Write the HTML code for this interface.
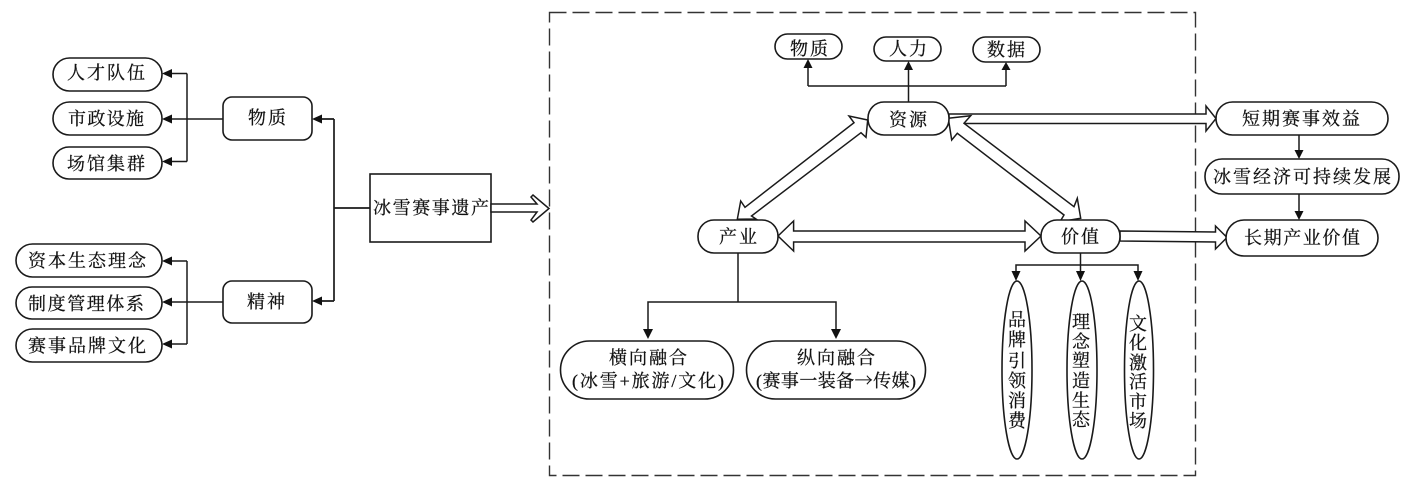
<!DOCTYPE html>
<html><head><meta charset="utf-8">
<style>
html,body{margin:0;padding:0;background:#fff;width:1407px;height:477px;overflow:hidden}
svg{display:block}
text{font-family:"Liberation Serif","Noto Serif CJK SC",serif;font-size:18px;fill:#111;stroke:#111;stroke-width:.25;text-anchor:middle}
.b{fill:#fff;stroke:#1a1a1a;stroke-width:1.6}
.l{fill:none;stroke:#1a1a1a;stroke-width:1.5}
.h{fill:#111;stroke:none}
.d{fill:#fff;stroke:#1a1a1a;stroke-width:1.5;stroke-linejoin:miter}
</style></head><body>
<svg width="1407" height="477" viewBox="0 0 1407 477" xmlns="http://www.w3.org/2000/svg">
<rect x="549.5" y="12.5" width="646" height="463" fill="none" stroke="#333" stroke-width="1.4" stroke-dasharray="17 6"/>

<!-- left connectors -->
<path class="l" d="M187 73.5H166M187 73.5V161.5M187 161.5H166M223 119H166M187 261H166M187 261V344M187 344H166M223 302H166"/>
<path class="l" d="M370 208H334M334 119V301M334 119H316M334 301H316" style="stroke-width:1.7"/>
<polygon class="h" points="162,73.5 172,69 172,78"/>
<polygon class="h" points="162,119 172,114.5 172,123.5"/>
<polygon class="h" points="162,161.5 172,157 172,166"/>
<polygon class="h" points="162,261 172,256.5 172,265.5"/>
<polygon class="h" points="162,302 172,297.5 172,306.5"/>
<polygon class="h" points="162,344 172,339.5 172,348.5"/>
<polygon class="h" points="312,119 322,114.5 322,123.5"/>
<polygon class="h" points="312,301 322,296.5 322,305.5"/>

<!-- left nodes -->
<rect class="b" x="53" y="58" width="109" height="33" rx="16.5"/>
<rect class="b" x="53" y="102" width="109" height="33" rx="16.5"/>
<rect class="b" x="53" y="147" width="109" height="32" rx="16"/>
<rect class="b" x="16" y="244" width="146" height="33" rx="16.5"/>
<rect class="b" x="16" y="287" width="146" height="32" rx="16"/>
<rect class="b" x="16" y="329" width="146" height="33" rx="16.5"/>
<rect class="b" x="223" y="97" width="89" height="43" rx="9"/>
<rect class="b" x="223" y="281" width="89" height="42" rx="9"/>
<rect x="370" y="174" width="121" height="68" fill="#fff" stroke="#1a1a1a" stroke-width="1.6"/>

<text x="106" y="79" textLength="78" lengthAdjust="spacing">人才队伍</text>
<text x="106" y="125" textLength="76" lengthAdjust="spacing">市政设施</text>
<text x="106" y="170" textLength="78" lengthAdjust="spacing">场馆集群</text>
<text x="87" y="267" textLength="118" lengthAdjust="spacing">资本生态理念</text>
<text x="86" y="310" textLength="116" lengthAdjust="spacing">制度管理体系</text>
<text x="87" y="352" textLength="118" lengthAdjust="spacing">赛事品牌文化</text>
<text x="267" y="124" textLength="38" lengthAdjust="spacing">物质</text>
<text x="266" y="308" textLength="38" lengthAdjust="spacing">精神</text>
<text x="431" y="214" textLength="116" lengthAdjust="spacing">冰雪赛事遗产</text>

<polygon class="d" points="491,204 537,204 531,197 533,195 549,208.5 533,222 531,220 537,212 491,212"/>

<!-- top connectors -->
<path class="l" d="M908.5 102V68M808 86H1006M808 86V66M1006 86V66"/>
<polygon class="h" points="808,59 803.5,68 812.5,68"/>
<polygon class="h" points="908.5,61 904,70 913,70"/>
<polygon class="h" points="1006,62 1001.5,70 1010.5,70"/>
<rect class="b" x="775" y="34" width="67" height="25" rx="12.5"/>
<rect class="b" x="874" y="37" width="67" height="24" rx="12"/>
<rect class="b" x="973" y="37" width="67" height="25" rx="12.5"/>
<text x="809" y="55" textLength="38" lengthAdjust="spacing">物质</text>
<text x="908" y="55" textLength="38" lengthAdjust="spacing">人力</text>
<text x="1006" y="56" textLength="38" lengthAdjust="spacing">数据</text>

<!-- hollow arrows -->
<polygon class="d" points="949,114 1206,114 1206,106 1216,118.5 1206,131 1206,123.5 949,123.5"/>
<polygon class="d" points="1120,231 1215.5,232 1215.5,226 1227,237.5 1215.5,249 1215.5,242 1120,241"/>
<polygon class="d" points="778,236 793.6,221 793.6,231 1025,231 1025,221 1041,236 1025,251 1025,242 793.6,242 793.6,251"/>
<polygon class="d" points="867.7,120 849,116 854,122.7 745,207.3 740.7,201 737.3,219.3 756,219 751.5,216 755,213.3 861,132.7 866,137.3"/>
<polygon class="d" points="948.3,118.3 970.7,115.7 964,123.3 1074,206.7 1077.3,198.3 1080.7,218.3 1060,221.7 1064,215 957.3,133.3 951.7,140"/>

<!-- right vertical connectors -->
<path class="l" d="M1299 135V152M1299 194V212"/>
<polygon class="h" points="1299,159 1294.5,150 1303.5,150"/>
<polygon class="h" points="1299,220 1294.5,211 1303.5,211"/>

<!-- lower connectors -->
<path class="l" d="M738 253V302M648 332V302H836V332"/>
<polygon class="h" points="648,339 643,329 653,329"/>
<polygon class="h" points="836,339 831,329 841,329"/>
<path class="l" d="M1080.5 253V274M1016 274V265H1138V274"/>
<polygon class="h" points="1016,281 1011.5,271 1020.5,271"/>
<polygon class="h" points="1080.5,281 1076,271 1085,271"/>
<polygon class="h" points="1138,281 1133.5,271 1142.5,271"/>

<!-- main nodes -->
<rect class="b" x="868" y="102" width="81" height="33" rx="16"/>
<rect class="b" x="698" y="220" width="80" height="33" rx="16"/>
<rect class="b" x="1041" y="220" width="79" height="33" rx="16"/>
<rect class="b" x="1216" y="102" width="172" height="33" rx="16.5"/>
<rect class="b" x="1205" y="159" width="194" height="35" rx="17"/>
<rect class="b" x="1226" y="220" width="152" height="36" rx="18"/>
<rect class="b" x="560.5" y="341" width="173" height="58" rx="29"/>
<rect class="b" x="746.5" y="341" width="179" height="58" rx="29"/>
<ellipse class="b" cx="1017" cy="370" rx="15" ry="89"/>
<ellipse class="b" cx="1082" cy="370" rx="15" ry="89"/>
<ellipse class="b" cx="1139" cy="370" rx="14.5" ry="89"/>

<text x="908" y="126" textLength="38" lengthAdjust="spacing">资源</text>
<text x="738" y="243" textLength="38" lengthAdjust="spacing">产业</text>
<text x="1080" y="243" textLength="38" lengthAdjust="spacing">价值</text>
<text x="1301" y="125" textLength="118" lengthAdjust="spacing">短期赛事效益</text>
<text x="1302" y="183" textLength="178" lengthAdjust="spacing">冰雪经济可持续发展</text>
<text x="1302" y="244" textLength="116" lengthAdjust="spacing">长期产业价值</text>

<text x="648" y="364" textLength="78" lengthAdjust="spacing">横向融合</text>
<text x="648" y="387" textLength="152" lengthAdjust="spacing">(冰雪+旅游/文化)</text>
<text x="836" y="364" textLength="78" lengthAdjust="spacing">纵向融合</text>
<text x="836" y="387" textLength="160" lengthAdjust="spacing">(赛事一装备<tspan style="font-family:'Noto Serif CJK SC',serif">→</tspan>传媒)</text>

<text><tspan x="1017" y="326">品</tspan><tspan x="1017" y="346">牌</tspan><tspan x="1017" y="367">引</tspan><tspan x="1017" y="387">领</tspan><tspan x="1017" y="407">消</tspan><tspan x="1017" y="427">费</tspan></text>
<text><tspan x="1081" y="328">理</tspan><tspan x="1081" y="348">念</tspan><tspan x="1081" y="367">塑</tspan><tspan x="1081" y="387">造</tspan><tspan x="1081" y="407">生</tspan><tspan x="1081" y="426">态</tspan></text>
<text><tspan x="1138" y="330">文</tspan><tspan x="1138" y="349">化</tspan><tspan x="1138" y="369">激</tspan><tspan x="1138" y="388">活</tspan><tspan x="1138" y="408">市</tspan><tspan x="1138" y="427">场</tspan></text>
</svg>
</body></html>
